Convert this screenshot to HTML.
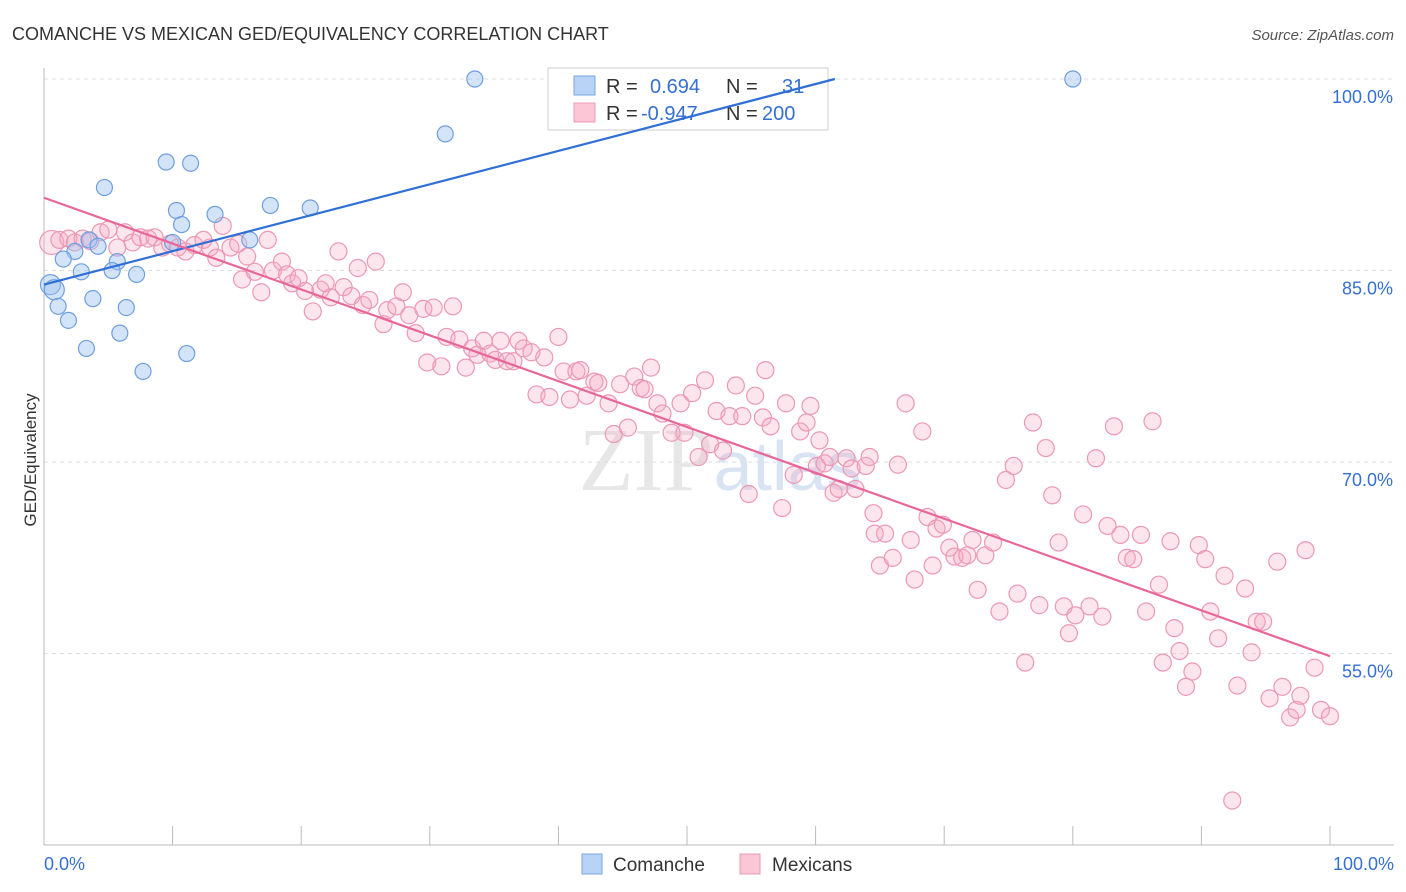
<!DOCTYPE html>
<html><head><meta charset="utf-8">
<style>
body{margin:0;background:#fff;font-family:"Liberation Sans",sans-serif;}
svg{display:block}
</style></head>
<body>
<svg id="chart" width="1406" height="892">
<text x="12" y="40" font-size="18" fill="#333">COMANCHE VS MEXICAN GED/EQUIVALENCY CORRELATION CHART</text>
<text x="1394" y="40" font-size="15" fill="#555" font-style="italic" text-anchor="end">Source: ZipAtlas.com</text>
<text x="36" y="460" font-size="17" fill="#333" text-anchor="middle" transform="rotate(-90 36 460)">GED/Equivalency</text>
<text x="720" y="490" font-size="90" fill="#ddd" font-family="Liberation Serif,serif" text-anchor="middle" opacity="0.7">ZIP<tspan fill="#c8d8ee" font-family="Liberation Sans,sans-serif" font-size="70">atlas</tspan></text>
<g id="grid"></g>
<g>
<rect x="548" y="68" width="280" height="62" fill="#fff" stroke="#ccc"/>
<rect x="574" y="76" width="21" height="19" fill="#b8d3f5" stroke="#7aa7e0"/>
<rect x="574" y="103" width="21" height="19" fill="#fbc7d6" stroke="#ee9ab5"/>
<text x="606" y="93" font-size="20" fill="#333">R = <tspan fill="#3570d0" x="650">0.694</tspan><tspan x="726" fill="#333">N =</tspan><tspan x="782" fill="#3570d0">31</tspan></text>
<text x="606" y="120" font-size="20" fill="#333">R = <tspan fill="#3570d0" x="641">-0.947</tspan><tspan x="726" fill="#333">N =</tspan><tspan x="762" fill="#3570d0">200</tspan></text>
</g>
<g id="marks"></g>
<g>
<rect x="582" y="854" width="20" height="20" fill="#b8d3f5" stroke="#7aa7e0"/>
<text x="613" y="871" font-size="19" fill="#333">Comanche</text>
<rect x="740" y="854" width="20" height="20" fill="#fbc7d6" stroke="#ee9ab5"/>
<text x="772" y="871" font-size="19" fill="#333">Mexicans</text>
</g>
</svg>
<script>
const comancheX=[33.5,80.0,31.2,9.5,11.4,4.7,10.3,13.3,17.6,20.7,10.7,16.0,10.0,3.5,4.2,2.4,1.5,5.7,2.9,5.3,7.2,0.5,0.8,3.8,6.4,1.1,1.9,5.9,3.3,11.1,7.7];
const comancheY=[100,100,95.7,93.5,93.4,91.5,89.7,89.4,90.1,89.9,88.6,87.4,87.2,87.4,86.9,86.5,85.9,85.7,84.9,85.0,84.7,83.9,83.5,82.8,82.1,82.2,81.1,80.1,78.9,78.5,77.1];
const mexX=[0.6,1.2,1.9,2.4,3.0,3.6,4.4,5.0,5.7,6.3,6.9,7.5,8.1,8.6,9.2,9.8,10.4,11.0,11.7,12.4,12.9,13.4,13.9,14.5,15.1,15.4,15.8,16.4,16.9,17.4,17.8,18.5,18.9,19.3,19.8,20.3,20.9,21.5,21.9,22.3,22.9,23.3,23.9,24.4,24.8,25.3,25.8,26.4,26.7,27.4,27.9,28.4,28.9,29.5,29.8,30.3,30.9,31.3,31.8,32.3,32.8,33.3,33.7,34.2,34.7,35.1,35.5,36.0,36.5,36.9,37.3,37.9,38.3,38.9,39.3,40.0,40.4,40.9,41.4,41.7,42.2,42.8,43.1,43.9,44.3,44.8,45.4,45.9,46.4,46.7,47.2,47.7,48.1,48.8,49.5,49.8,50.4,50.9,51.4,51.8,52.3,52.8,53.3,53.8,54.3,54.8,55.3,55.9,56.1,56.5,57.4,57.7,58.3,58.8,59.3,59.6,60.1,60.3,60.7,61.1,61.4,61.8,62.4,62.8,63.1,63.9,64.2,64.5,64.6,65.0,65.4,66.0,66.4,67.0,67.4,67.7,68.3,68.7,69.1,69.4,69.9,70.4,70.8,71.4,71.8,72.2,72.6,73.2,73.8,74.3,74.8,75.4,75.7,76.3,76.9,77.4,77.9,78.4,78.9,79.3,79.7,80.2,80.8,81.3,81.8,82.3,82.7,83.2,83.7,84.2,84.7,85.3,85.7,86.2,86.7,87.0,87.6,87.9,88.3,88.8,89.3,89.8,90.3,90.7,91.3,91.8,92.4,92.8,93.4,93.9,94.3,94.8,95.3,95.9,96.3,96.9,97.4,97.7,98.1,98.8,99.3,100.0];
const mexY=[87.2,87.4,87.5,87.2,87.5,87.3,88.0,88.2,86.8,88.0,87.2,87.6,87.5,87.6,86.8,87.1,86.8,86.5,87.0,87.4,86.8,86.0,88.5,86.8,87.1,84.3,86.1,84.9,83.3,87.4,85.0,85.7,84.7,84.0,84.4,83.4,81.8,83.5,84.0,82.9,86.5,83.7,83.0,85.2,82.3,82.7,85.7,80.8,81.9,82.2,83.3,81.5,80.1,82.0,77.8,82.1,77.5,79.8,82.2,79.6,77.4,78.9,78.4,79.5,78.5,78.0,79.5,77.9,77.9,79.5,78.9,78.6,75.3,78.2,75.1,79.8,77.1,74.9,77.1,77.2,75.2,76.3,76.2,74.6,72.2,76.1,72.7,76.7,75.8,75.7,77.4,74.6,73.8,72.3,74.6,72.3,75.4,70.4,76.4,71.4,74.0,70.9,73.6,76.0,73.6,67.5,75.2,73.5,77.2,72.8,66.4,74.6,69.0,72.4,73.1,74.4,69.7,71.7,69.9,70.4,67.6,67.9,70.3,69.5,67.9,69.7,70.4,66.0,64.4,61.9,64.4,62.5,69.8,74.6,63.9,60.8,72.4,65.7,61.9,64.8,65.1,63.3,62.6,62.5,62.7,63.9,60.0,62.7,63.7,58.3,68.6,69.7,59.7,54.3,73.1,58.8,71.1,67.4,63.7,58.7,56.6,58.0,65.9,58.7,70.3,57.9,65.0,72.8,64.3,62.5,62.4,64.3,58.3,73.2,60.4,54.3,63.8,57.0,55.2,52.4,53.6,63.5,62.4,58.3,56.2,61.1,43.5,52.5,60.1,55.1,57.5,57.5,51.5,62.2,52.4,50.0,50.6,51.7,63.1,53.9,50.6,50.1];
const blueLine=[[0,83.9],[61.5,100]];
const pinkLine=[[0,90.7],[100,54.8]];
const yTicks=[100,85,70,55];
const yTickLabels=["100.0%","85.0%","70.0%","55.0%"];
const xTickVals=[0,10,20,30,40,50,60,70,80,90,100];

const NS="http://www.w3.org/2000/svg";
const X=v=>44+v*12.86;
const Y=v=>79+(100-v)*12.77;
function mk(tag,attrs,parent){const e=document.createElementNS(NS,tag);for(const k in attrs)e.setAttribute(k,attrs[k]);parent.appendChild(e);return e;}
const grid=document.getElementById('grid');
const marks=document.getElementById('marks');
yTicks.forEach((t,i)=>{
  const l=mk('line',{x1:44,x2:1394,y1:Y(t),y2:Y(t),stroke:'#ddd','stroke-dasharray':'4 4'},grid);
  
  
  const tx=mk('text',{x:1393,y:Y(t)+24,'font-size':18,fill:'#3570d0','text-anchor':'end'},grid);
  tx.textContent=yTickLabels[i];
  
  
});
const ax=mk('line',{x1:44,x2:1394,y1:845,y2:845,stroke:'#bbb'},grid);


const ay=mk('line',{x1:44,x2:44,y1:68,y2:845,stroke:'#bbb'},grid);


xTickVals.forEach(v=>{
  const t=mk('line',{x1:X(v),x2:X(v),y1:826,y2:845,stroke:'#bbb'},grid);
  
  
});
[[0,'0.0%','start',44],[100,'100.0%','end',1394]].forEach(a=>{
  const t=mk('text',{x:a[3],y:870,'font-size':18,fill:'#3570d0','text-anchor':a[2]},grid);
  t.textContent=a[1];
  
  
});
mexX.forEach((x,i)=>{
  const c=mk('circle',{cx:X(x),cy:Y(mexY[i]),r:i===0?12:8.5,fill:'rgba(246,168,195,0.3)',stroke:'#ec98b5','stroke-width':1.2},marks);
  
  
});
comancheX.forEach((x,i)=>{
  const c=mk('circle',{cx:X(x),cy:Y(comancheY[i]),r:(i===21||i===22)?10:8,fill:'rgba(160,196,240,0.45)',stroke:'#6d9fe0','stroke-width':1.2},marks);
  
  
});
const bl=mk('line',{x1:X(blueLine[0][0]),y1:Y(blueLine[0][1]),x2:X(blueLine[1][0]),y2:Y(blueLine[1][1]),stroke:'#2f6fd6','stroke-width':2.2},marks);


const pl=mk('line',{x1:X(pinkLine[0][0]),y1:Y(pinkLine[0][1]),x2:X(pinkLine[1][0]),y2:Y(pinkLine[1][1]),stroke:'#e8679a','stroke-width':2.2},marks);


</script>
</body></html>
